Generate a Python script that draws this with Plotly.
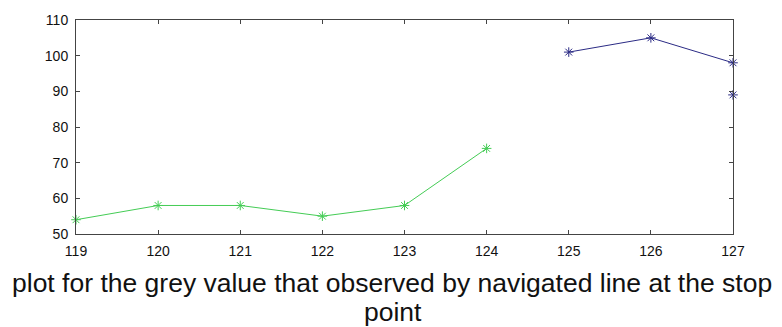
import plotly.graph_objects as go

green_x = [119, 120, 121, 122, 123, 124]
green_y = [54, 58, 58, 55, 58, 74]
blue_x = [125, 126, 127]
blue_y = [101, 105, 98]
blue_extra_x = [127]
blue_extra_y = [89]
x_ticks = [119, 120, 121, 122, 123, 124, 125, 126, 127]
y_ticks = [50, 60, 70, 80, 90, 100, 110]
caption_lines = ["plot for the grey value that observed by navigated line at the stop", "point"]

GREEN = "#44cc55"
BLUE = "#2b2b85"

fig = go.Figure()
fig.add_trace(go.Scatter(x=green_x, y=green_y, mode="lines+markers",
                         line=dict(color=GREEN, width=1),
                         marker=dict(symbol="asterisk-open", size=8, color=GREEN,
                                     line=dict(color=GREEN, width=1)),
                         cliponaxis=False, showlegend=False))
fig.add_trace(go.Scatter(x=blue_x, y=blue_y, mode="lines+markers",
                         line=dict(color=BLUE, width=1),
                         marker=dict(symbol="asterisk-open", size=8, color=BLUE,
                                     line=dict(color=BLUE, width=1)),
                         cliponaxis=False, showlegend=False))
fig.add_trace(go.Scatter(x=blue_extra_x, y=blue_extra_y, mode="markers",
                         marker=dict(symbol="asterisk-open", size=8, color=BLUE,
                                     line=dict(color=BLUE, width=1)),
                         cliponaxis=False, showlegend=False))

axis_common = dict(showgrid=False, zeroline=False, showline=True, mirror="allticks",
                   linecolor="#444444", linewidth=1, ticks="inside", ticklen=4,
                   tickcolor="#444444", ticklabelstandoff=4,
                   tickfont=dict(family="Liberation Sans, Arial", size=14, color="#111111"))

cap_font = dict(family="Liberation Sans, Arial", size=26.5, color="#111111")
plot_h = 217
annotations = [
    dict(text=caption_lines[0], x=(392 - 76) / 657, y=-(284 - 234) / plot_h,
         xref="paper", yref="paper", xanchor="center", yanchor="middle",
         showarrow=False, font=cap_font),
    dict(text=caption_lines[1], x=(393 - 76) / 657, y=-(313 - 234) / plot_h,
         xref="paper", yref="paper", xanchor="center", yanchor="middle",
         showarrow=False, font=cap_font),
]

fig.update_layout(
    width=782, height=327,
    margin=dict(l=76, r=49, t=17, b=93),
    paper_bgcolor="white", plot_bgcolor="white",
    xaxis=dict(range=[119, 127], tickvals=x_ticks, **axis_common),
    yaxis=dict(range=[50, 110], tickvals=y_ticks, **axis_common),
    annotations=annotations,
)
fig.write_html("out.html")
